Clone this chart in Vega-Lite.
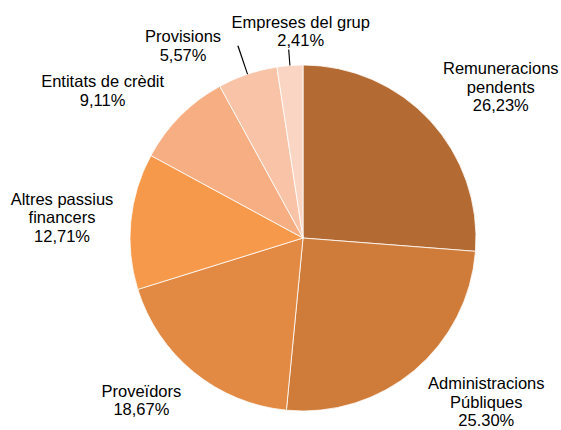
{
  "$schema": "https://vega.github.io/schema/vega-lite/v6.json",
  "width": 561,
  "height": 430,
  "autosize": "none",
  "padding": 0,
  "background": "white",
  "data": {
    "values": [
      { "name": "Remuneracions pendents", "pct": 26.23, "label": "Remuneracions\npendents\n26,23%" },
      { "name": "Administracions Públiques", "pct": 25.30, "label": "Administracions\nPúbliques\n25.30%" },
      { "name": "Proveïdors", "pct": 18.67, "label": "Proveïdors\n18,67%" },
      { "name": "Altres passius financers", "pct": 12.71, "label": "Altres passius\nfinancers\n12,71%" },
      { "name": "Entitats de crèdit", "pct": 9.11, "label": "Entitats de crèdit\n9,11%" },
      { "name": "Provisions", "pct": 5.57, "label": "Provisions\n5,57%" },
      { "name": "Empreses del grup", "pct": 2.41, "label": "Empreses del grup\n2,41%" }
    ]
  },
  "layer": [
    {
      "mark": { "type": "arc", "x": 303, "y": 238, "radius": 173, "stroke": "white", "strokeWidth": 0.8 },
      "encoding": {
        "theta": { "field": "pct", "type": "quantitative", "stack": true, "scale": { "domain": [0, 100] } },
        "order": { "field": "pct", "sort": "descending" },
        "color": {
          "field": "name",
          "type": "nominal",
          "sort": null,
          "legend": null,
          "scale": {
            "domain": ["Remuneracions pendents", "Administracions Públiques", "Proveïdors", "Altres passius financers", "Entitats de crèdit", "Provisions", "Empreses del grup"],
            "range": ["#b46b33", "#cf7c3a", "#e28a43", "#f6994a", "#f6ae82", "#f8c3a6", "#fbd5c3"]
          }
        }
      }
    },
    {
      "transform": [
        { "window": [{ "op": "sum", "field": "pct", "as": "cum" }], "sort": [{ "field": "pct", "order": "descending" }], "frame": [null, 0] },
        { "filter": "datum.pct < 6" },
        { "calculate": "datum.cum - datum.pct / 2 - 0.05", "as": "lo" },
        { "calculate": "datum.cum - datum.pct / 2 + 0.05", "as": "hi" }
      ],
      "mark": {
        "type": "arc",
        "x": 303,
        "y": 238,
        "radius": 173,
        "radius2": { "expr": "datum.pct > 5 ? 203 : 189" },
        "color": "#000"
      },
      "encoding": {
        "theta": { "field": "lo", "type": "quantitative", "scale": { "domain": [0, 100] } },
        "theta2": { "field": "hi" }
      }
    },
    {
      "mark": {
        "type": "text",
        "x": 303,
        "y": 238,
        "radius": 215,
        "font": "Liberation Sans",
        "fontSize": 16.5,
        "lineHeight": 18.5,
        "lineBreak": "\n",
        "align": "center",
        "baseline": "middle",
        "color": "#000",
        "dx": { "expr": "({'Remuneracions pendents': 40, 'Administracions Públiques': 45, 'Proveïdors': -26, 'Altres passius financers': -27, 'Entitats de crèdit': -48, 'Provisions': -51, 'Empreses del grup': 14})[datum.name]" },
        "dy": { "expr": "({'Remuneracions pendents': -22.5, 'Administracions Públiques': -18.5, 'Proveïdors': -13, 'Altres passius financers': -17.5, 'Entitats de crèdit': -4, 'Provisions': 3, 'Empreses del grup': -1})[datum.name]" }
      },
      "encoding": {
        "theta": { "field": "pct", "type": "quantitative", "stack": true, "scale": { "domain": [0, 100] } },
        "order": { "field": "pct", "sort": "descending" },
        "text": { "field": "label" }
      }
    }
  ],
  "config": {
    "view": { "stroke": null }
  }
}
